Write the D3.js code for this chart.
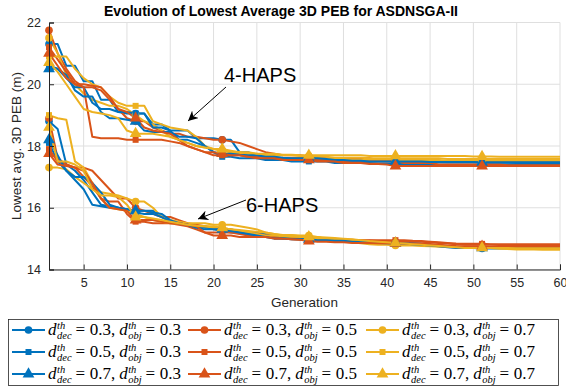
<!DOCTYPE html>
<html>
<head>
<meta charset="utf-8">
<script src="https://cdn.jsdelivr.net/npm/d3@7"></script>
<style>
body { margin: 0; background: #fff; }
svg { font-family: Helvetica, Arial, "Liberation Sans", sans-serif; }
</style>
</head>
<body>
<div id="chart"></div>
<script>
// generation axis
const generations = d3.range(1, 61);
const xTicks = [5, 10, 15, 20, 25, 30, 35, 40, 45, 50, 55, 60];
const yTicks = [14, 16, 18, 20, 22];

// legend categories
const decValues = [0.3, 0.5, 0.7];
const objValues = [0.3, 0.5, 0.7];

// 4-HAPS runs (best avg 3D PEB per generation)
const h4_bc = [21.3,21.3,20.6,20.6,20.1,20.1,19.5,19.5,19.1,19.05,
	19.05,19.05,18.7,18.7,18.5,18.5,18.5,18.25,18.25,18.25,
	18.2,18.2,17.8,17.8,17.7,17.7,17.6,17.6,17.6,17.6,
	17.55,17.55,17.55,17.5,17.5,17.5,17.5,17.5,17.5,17.5,
	17.5,17.5,17.48,17.48,17.48,17.48,17.47,17.47,17.47,17.47,
	17.46,17.46,17.46,17.46,17.45,17.45,17.45,17.45,17.45,17.45];
const h4_bs = [20.6,20.5,20.2,19.9,19.9,19.4,19.2,19.2,19.1,19.1,
	19.05,19.05,18.6,18.6,18.5,18.2,18.2,18.1,18.0,17.8,
	17.65,17.65,17.6,17.6,17.6,17.55,17.55,17.55,17.5,17.5,
	17.5,17.5,17.5,17.45,17.45,17.45,17.45,17.45,17.42,17.42,
	17.42,17.42,17.42,17.42,17.4,17.4,17.4,17.4,17.4,17.4,
	17.4,17.4,17.4,17.4,17.4,17.4,17.4,17.4,17.4,17.4];
const h4_bt = [20.5,20.5,20.3,19.8,19.6,19.6,19.1,18.9,18.9,18.85,
	18.8,18.5,18.45,18.45,18.45,18.3,18.3,18.25,18.0,17.8,
	17.75,17.75,17.72,17.7,17.7,17.65,17.65,17.62,17.6,17.6,
	17.6,17.6,17.58,17.55,17.55,17.52,17.52,17.5,17.5,17.5,
	17.5,17.5,17.5,17.5,17.48,17.48,17.48,17.48,17.48,17.48,
	17.47,17.47,17.47,17.47,17.47,17.47,17.47,17.47,17.47,17.47];
const h4_oc = [21.75,21.0,20.5,20.1,19.9,19.9,19.8,19.5,19.2,18.9,
	18.8,18.8,18.6,18.5,18.4,18.4,18.3,18.3,18.25,18.2,
	18.2,18.15,18.1,18.0,17.9,17.8,17.75,17.7,17.7,17.7,
	17.65,17.65,17.6,17.6,17.6,17.6,17.6,17.6,17.55,17.55,
	17.55,17.55,17.55,17.52,17.52,17.52,17.5,17.5,17.5,17.5,
	17.5,17.5,17.5,17.5,17.5,17.5,17.5,17.5,17.5,17.5];
const h4_os = [21.2,20.8,20.4,20.0,19.9,18.3,18.25,18.25,18.25,18.2,
	18.2,18.2,18.2,18.2,18.15,18.1,18.0,17.9,17.8,17.7,
	17.7,17.7,17.7,17.65,17.65,17.65,17.6,17.6,17.6,17.6,
	17.6,17.55,17.55,17.55,17.5,17.5,17.5,17.5,17.5,17.5,
	17.5,17.45,17.45,17.45,17.45,17.4,17.4,17.4,17.4,17.4,
	17.4,17.4,17.4,17.38,17.38,17.38,17.38,17.38,17.38,17.38];
const h4_ot = [21.0,20.6,20.2,20.0,20.0,19.95,19.9,19.6,19.2,19.1,
	18.9,18.6,18.5,18.45,18.4,18.2,18.0,17.9,17.8,17.8,
	17.75,17.7,17.7,17.65,17.6,17.6,17.6,17.55,17.55,17.55,
	17.55,17.5,17.5,17.5,17.45,17.45,17.45,17.42,17.42,17.4,
	17.35,17.35,17.35,17.35,17.35,17.35,17.35,17.35,17.35,17.35,
	17.35,17.35,17.35,17.35,17.35,17.35,17.35,17.35,17.35,17.35];
const h4_yc = [21.5,21.0,20.3,20.0,19.7,19.5,19.4,19.3,19.3,19.2,
	19.0,18.8,18.7,18.5,18.3,18.2,18.1,18.0,17.95,17.9,
	17.85,17.8,17.75,17.7,17.7,17.65,17.65,17.6,17.6,17.6,
	17.6,17.6,17.58,17.58,17.58,17.55,17.55,17.55,17.55,17.55,
	17.55,17.55,17.55,17.55,17.55,17.55,17.52,17.52,17.52,17.52,
	17.52,17.52,17.52,17.52,17.52,17.52,17.52,17.52,17.52,17.52];
const h4_ys = [20.9,20.9,20.9,20.5,20.2,20.0,19.9,19.6,19.4,19.3,
	19.3,19.3,18.8,18.7,18.6,18.55,18.5,18.3,18.0,17.9,
	17.85,17.8,17.8,17.75,17.75,17.7,17.7,17.7,17.7,17.68,
	17.68,17.65,17.65,17.62,17.62,17.62,17.62,17.6,17.6,17.6,
	17.6,17.6,17.6,17.6,17.6,17.6,17.58,17.58,17.58,17.58,
	17.58,17.58,17.58,17.58,17.58,17.58,17.58,17.58,17.58,17.58];
const h4_yt = [20.7,20.4,20.0,19.6,19.2,19.1,19.05,19.0,18.9,18.5,
	18.4,18.4,18.4,18.35,18.3,18.2,18.1,18.0,17.95,17.9,
	17.9,17.85,17.8,17.8,17.75,17.75,17.75,17.72,17.72,17.7,
	17.7,17.7,17.7,17.7,17.7,17.7,17.7,17.68,17.68,17.68,
	17.68,17.68,17.68,17.68,17.68,17.68,17.68,17.68,17.68,17.66,
	17.66,17.66,17.65,17.65,17.65,17.65,17.65,17.65,17.65,17.65];

// 6-HAPS runs
const h6_bc = [18.8,18.55,17.4,17.2,16.9,16.5,16.1,16.05,16.0,15.95,
	15.9,15.9,15.9,15.7,15.6,15.5,15.45,15.4,15.35,15.35,
	15.3,15.3,15.25,15.2,15.2,15.15,15.1,15.1,15.05,15.05,
	15.0,15.0,14.98,14.95,14.95,14.92,14.9,14.9,14.88,14.88,
	14.86,14.85,14.85,14.82,14.8,14.78,14.75,14.72,14.7,14.7,
	14.68,14.68,14.68,14.68,14.68,14.68,14.68,14.68,14.68,14.68];
const h6_bs = [18.1,17.5,17.2,16.9,16.6,16.1,16.05,16.0,16.0,15.95,
	15.85,15.8,15.8,15.7,15.55,15.5,15.45,15.4,15.4,15.3,
	15.25,15.2,15.2,15.15,15.1,15.1,15.05,15.05,15.0,15.0,
	14.98,14.98,14.95,14.92,14.9,14.9,14.88,14.88,14.86,14.86,
	14.85,14.85,14.84,14.83,14.8,14.78,14.76,14.74,14.72,14.7,
	14.7,14.7,14.7,14.7,14.7,14.7,14.7,14.7,14.7,14.7];
const h6_bt = [18.2,17.7,17.2,17.0,17.0,16.8,16.5,16.1,16.0,15.95,
	15.9,15.9,15.85,15.8,15.6,15.5,15.45,15.35,15.3,15.3,
	15.3,15.25,15.2,15.15,15.1,15.05,15.0,15.0,14.98,14.98,
	14.98,14.95,14.95,14.93,14.93,14.9,14.9,14.88,14.86,14.85,
	14.85,14.84,14.82,14.8,14.78,14.75,14.72,14.7,14.7,14.7,
	14.7,14.7,14.7,14.7,14.7,14.7,14.7,14.7,14.7,14.7];
const h6_oc = [18.9,17.6,17.4,17.3,17.3,17.2,16.9,16.6,16.3,16.3,
	16.0,15.9,15.8,15.7,15.7,15.6,15.5,15.45,15.4,15.35,
	15.3,15.3,15.25,15.2,15.15,15.1,15.1,15.05,15.05,15.0,
	15.0,15.0,14.98,14.98,14.96,14.96,14.94,14.94,14.92,14.92,
	14.9,14.9,14.9,14.9,14.88,14.86,14.84,14.82,14.8,14.8,
	14.8,14.8,14.79,14.79,14.78,14.78,14.78,14.78,14.78,14.78];
const h6_os = [17.9,17.5,17.4,17.3,17.0,16.7,16.3,16.2,16.2,15.8,
	15.55,15.55,15.5,15.5,15.5,15.45,15.4,15.3,15.2,15.2,
	15.2,15.2,15.15,15.1,15.1,15.05,15.05,15.0,14.98,14.96,
	14.95,14.95,14.95,14.95,14.95,14.95,14.95,14.95,14.95,14.95,
	14.95,14.95,14.93,14.92,14.9,14.88,14.86,14.84,14.83,14.83,
	14.83,14.82,14.82,14.82,14.82,14.82,14.82,14.82,14.82,14.82];
const h6_ot = [17.75,17.4,17.35,17.3,17.2,16.8,16.3,16.0,15.95,15.9,
	15.6,15.6,15.6,15.55,15.5,15.5,15.45,15.4,15.2,15.1,
	15.1,15.1,15.05,15.05,15.05,15.05,15.0,15.0,14.98,14.96,
	14.92,14.9,14.9,14.88,14.88,14.86,14.86,14.86,14.85,14.85,
	14.85,14.84,14.84,14.84,14.83,14.8,14.78,14.76,14.75,14.75,
	14.75,14.74,14.74,14.74,14.74,14.74,14.74,14.74,14.74,14.74];
const h6_yc = [17.3,17.3,17.25,17.0,16.8,16.6,16.5,16.45,16.4,16.3,
	16.2,16.2,16.0,15.7,15.6,15.55,15.5,15.5,15.5,15.45,
	15.45,15.45,15.4,15.35,15.3,15.2,15.15,15.12,15.12,15.1,
	15.1,15.05,15.0,14.95,14.9,14.88,14.85,14.82,14.8,14.8,
	14.78,14.78,14.78,14.76,14.75,14.74,14.73,14.72,14.72,14.72,
	14.72,14.7,14.68,14.66,14.65,14.65,14.65,14.64,14.64,14.64];
const h6_ys = [19.0,18.9,18.85,17.5,17.3,16.8,16.3,16.0,15.95,15.9,
	15.8,15.7,15.6,15.55,15.5,15.5,15.45,15.4,15.4,15.35,
	15.35,15.3,15.25,15.2,15.15,15.1,15.1,15.08,15.06,15.05,
	15.05,15.0,15.0,14.98,14.96,14.94,14.92,14.9,14.88,14.86,
	14.85,14.84,14.82,14.8,14.78,14.76,14.74,14.72,14.7,14.7,
	14.7,14.7,14.68,14.68,14.68,14.68,14.67,14.67,14.67,14.67];
const h6_yt = [18.6,17.5,17.5,17.4,17.2,16.6,16.4,16.4,16.35,16.1,
	15.7,15.7,15.65,15.6,15.55,15.5,15.45,15.42,15.4,15.4,
	15.35,15.3,15.28,15.25,15.22,15.2,15.15,15.1,15.1,15.08,
	15.06,15.05,15.04,15.02,15.0,14.98,14.95,14.92,14.9,14.88,
	14.86,14.84,14.82,14.8,14.78,14.76,14.74,14.72,14.7,14.7,
	14.7,14.7,14.7,14.7,14.69,14.69,14.69,14.69,14.69,14.69];

const colors = ['#0072BD', '#D95319', '#EDB120'];   // by d_obj
const markers = [d3.symbolCircle, d3.symbolSquare, d3.symbolTriangle]; // by d_dec
const markerSizes = [46, 36, 60];

// [series, decIndex, objIndex]
const series = [
	[h4_bc, 0, 0], [h4_oc, 0, 1], [h4_yc, 0, 2],
	[h4_bs, 1, 0], [h4_os, 1, 1], [h4_ys, 1, 2],
	[h4_bt, 2, 0], [h4_ot, 2, 1], [h4_yt, 2, 2],
	[h6_bc, 0, 0], [h6_oc, 0, 1], [h6_yc, 0, 2],
	[h6_bs, 1, 0], [h6_os, 1, 1], [h6_ys, 1, 2],
	[h6_bt, 2, 0], [h6_ot, 2, 1], [h6_yt, 2, 2]
];

const width = 566, height = 389;
const plotLeft = 49, plotRight = 560, plotTop = 22.5, plotBottom = 269.5;
const axisColor = '#262626';

const svg = d3.select('#chart')
	.append('svg')
	.attr('width', width)
	.attr('height', height);

const xScale = d3.scaleLinear().domain([1, 60]).range([plotLeft, plotRight]);
const yScale = d3.scaleLinear().domain([14, 22]).range([plotBottom, plotTop]);

// grid
svg.append('g')
	.selectAll('line')
	.data(xTicks)
	.enter()
	.append('line')
	.attr('x1', d => xScale(d)).attr('x2', d => xScale(d))
	.attr('y1', plotTop).attr('y2', plotBottom)
	.attr('stroke', '#dfdfdf');
svg.append('g')
	.selectAll('line')
	.data(yTicks)
	.enter()
	.append('line')
	.attr('x1', plotLeft).attr('x2', plotRight)
	.attr('y1', d => yScale(d)).attr('y2', d => yScale(d))
	.attr('stroke', '#dfdfdf');

// lines
const line = d3.line()
	.x((d, i) => xScale(generations[i]))
	.y(d => yScale(d));

const lineGroup = svg.append('g');
series.forEach(s => {
	lineGroup.append('path')
		.attr('d', line(s[0]))
		.attr('fill', 'none')
		.attr('stroke', colors[s[2]])
		.attr('stroke-width', 2)
		.attr('stroke-linejoin', 'round');
});

// markers every 10 generations
const markerIdx = [0, 10, 20, 30, 40, 50];
series.forEach(s => {
	lineGroup.append('g')
		.selectAll('path')
		.data(markerIdx)
		.enter()
		.append('path')
		.attr('d', d3.symbol().type(markers[s[1]]).size(markerSizes[s[1]]))
		.attr('transform', i => `translate(${xScale(generations[i])},${yScale(s[0][i])})`)
		.attr('fill', colors[s[2]]);
});

// axes
const xAxis = svg.append('g')
	.attr('transform', `translate(0,${plotBottom})`)
	.call(d3.axisBottom(xScale).tickValues(xTicks).tickSize(-5).tickPadding(9));
const yAxis = svg.append('g')
	.attr('transform', `translate(${plotLeft},0)`)
	.call(d3.axisLeft(yScale).tickValues(yTicks).tickSize(-5).tickPadding(8));

[xAxis, yAxis].forEach(a => {
	a.select('.domain').attr('stroke', axisColor);
	a.selectAll('.tick line').attr('stroke', axisColor);
	a.selectAll('.tick text')
		.attr('fill', axisColor)
		.style('font-size', '12.5px')
		.style('font-family', 'Helvetica, Arial, "Liberation Sans", sans-serif');
});

// title and axis labels
svg.append('text')
	.attr('x', 281).attr('y', 16)
	.attr('text-anchor', 'middle')
	.style('font-size', '14px')
	.style('font-weight', 'bold')
	.attr('fill', '#000')
	.text('Evolution of Lowest Average 3D PEB for ASDNSGA-II');

svg.append('text')
	.attr('x', (plotLeft + plotRight) / 2).attr('y', 307)
	.attr('text-anchor', 'middle')
	.style('font-size', '13.5px')
	.attr('fill', axisColor)
	.text('Generation');

svg.append('text')
	.attr('transform', `translate(21,${(plotTop + plotBottom) / 2}) rotate(-90)`)
	.attr('text-anchor', 'middle')
	.style('font-size', '13.5px')
	.attr('fill', axisColor)
	.text('Lowest avg. 3D PEB (m)');

// annotations
svg.append('defs').append('marker')
	.attr('id', 'arrow')
	.attr('viewBox', '0 0 10 10')
	.attr('refX', 10).attr('refY', 5)
	.attr('markerWidth', 10).attr('markerHeight', 10)
	.attr('markerUnits', 'userSpaceOnUse')
	.attr('orient', 'auto')
	.append('path')
	.attr('d', 'M0,0 L10,5 L0,10 L3,5 Z')
	.attr('fill', '#000');

const notes = [
	{text: '4-HAPS', tx: 224, ty: 82, from: [226, 87], to: [188, 121]},
	{text: '6-HAPS', tx: 246, ty: 212, from: [246, 200], to: [198, 219]}
];
notes.forEach(n => {
	svg.append('line')
		.attr('x1', n.from[0]).attr('y1', n.from[1])
		.attr('x2', n.to[0]).attr('y2', n.to[1])
		.attr('stroke', '#000')
		.attr('stroke-width', 1)
		.attr('marker-end', 'url(#arrow)');
	svg.append('text')
		.attr('x', n.tx).attr('y', n.ty)
		.style('font-size', '20px')
		.attr('fill', '#000')
		.text(n.text);
});

// legend
const legend = svg.append('g');
legend.append('rect')
	.attr('x', 8.5).attr('y', 319.5)
	.attr('width', 550).attr('height', 66)
	.attr('fill', '#fff')
	.attr('stroke', axisColor)
	.attr('stroke-width', 0.8);

const colX = [12, 188, 366];
const rowY = [330, 352, 374];
const serif = '"Liberation Serif", "Times New Roman", serif';

function mathPart(g, x, y, str, size, italic, dy) {
	const t = g.append('text')
		.attr('x', x).attr('y', y + (dy || 0))
		.style('font-family', serif)
		.style('font-size', size + 'px')
		.style('font-style', italic ? 'italic' : 'normal')
		.attr('fill', '#000')
		.text(str);
	return t.node().getComputedTextLength();
}

function drawLabel(g, x, y, dec, obj) {
	let cx = x;
	const big = 17, small = 10.5;
	[['dec', dec], ['obj', obj]].forEach((p, k) => {
		cx += mathPart(g, cx, y, 'd', big, true);
		const w1 = mathPart(g, cx + 0.5, y, 'th', small, true, -6.5);
		const w2 = mathPart(g, cx + 0.5, y, p[0], small, true, 3.5);
		cx += Math.max(w1, w2) + 4.5;
		cx += mathPart(g, cx, y, '=', big, false) + 4.5;
		cx += mathPart(g, cx, y, p[1].toFixed(1) + (k == 0 ? ',' : ''), big, false) + 4;
	});
}

series.slice(0, 9).forEach(s => {
	const x = colX[s[2]], y = rowY[s[1]];
	const item = legend.append('g');
	item.append('line')
		.attr('x1', x).attr('x2', x + 33)
		.attr('y1', y).attr('y2', y)
		.attr('stroke', colors[s[2]])
		.attr('stroke-width', 2);
	item.append('path')
		.attr('d', d3.symbol().type(markers[s[1]]).size(markerSizes[s[1]]))
		.attr('transform', `translate(${x + 16.5},${y})`)
		.attr('fill', colors[s[2]]);
	drawLabel(item, x + 36, y + 5, decValues[s[1]], objValues[s[2]]);
});
</script>
</body>
</html>
